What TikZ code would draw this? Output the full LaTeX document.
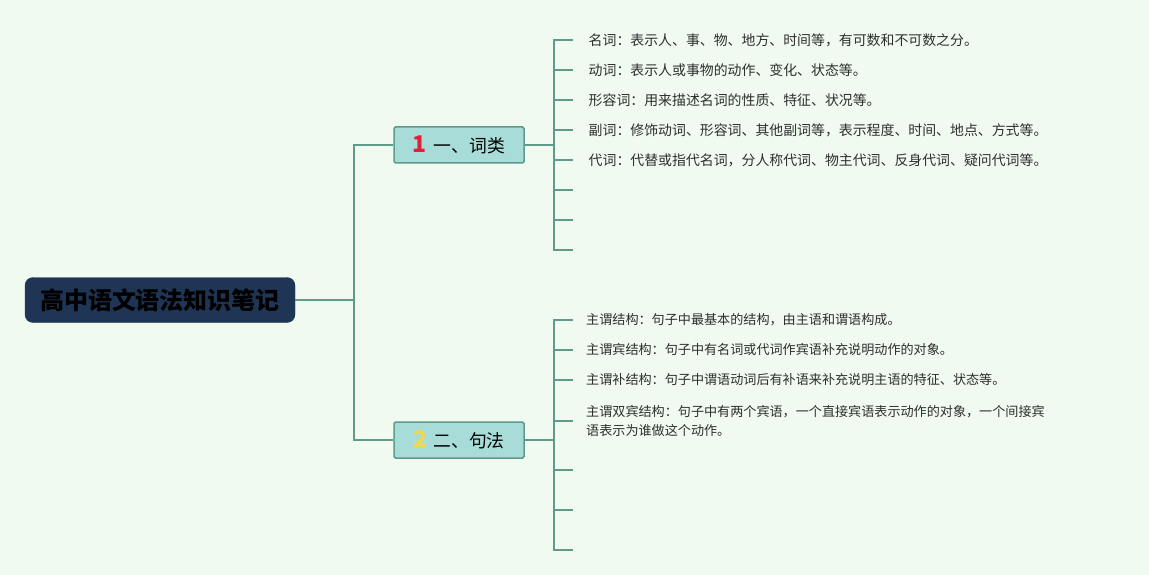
\documentclass[tikz,border=0pt]{standalone}
\usepackage{fontspec}
\setmainfont{Noto Sans CJK SC}
\definecolor{bgmint}{HTML}{F0FAF1}
\definecolor{rootblue}{HTML}{1F3556}
\definecolor{boxteal}{HTML}{A8DCD8}
\definecolor{lineteal}{HTML}{5E9B8B}
\definecolor{leafgray}{HTML}{2E2E2E}
\definecolor{numred}{HTML}{E3203B}
\definecolor{numyellow}{HTML}{F3D84C}

\begin{document}
\begin{tikzpicture}[x=1pt,y=-1pt]
		\tikzset{root/.style = {fill=rootblue, draw=rootblue, rounded corners=8pt, minimum width=270pt, minimum height=45pt, text=black, font=\fontsize{24}{24}\selectfont\bfseries}}
		\tikzset{branch/.style = {fill=boxteal, draw=lineteal, line width=1.5pt, rounded corners=1.5pt, minimum width=130pt, minimum height=36pt, text=black, font=\fontsize{17.8}{20}\selectfont}}
		\tikzset{leaf/.style = {anchor=west, inner xsep=15.5pt, inner ysep=0pt, align=left, text=leafgray, font=\fontsize{13.9}{20}\selectfont}}
		\tikzset{leafsm/.style = {leaf, inner xsep=13pt, font=\fontsize{13.1}{20}\selectfont}}
		\tikzset{edge/.style = {draw=lineteal, line width=1.5pt}}
		
		\fill[bgmint] (0,0) rectangle (1149,575);
		\useasboundingbox (0,0) rectangle (1149,575);
		
		\node[root]    (root) at ( 160, 300) {高中语文语法知识笔记};
		\node[branch]  (b1)   at ( 459, 145) {\textcolor{numred}{\fontsize{23}{23}\selectfont\bfseries 1}\hspace{7pt}一、词类};
		\node[branch]  (b2)   at ( 459, 440) {\textcolor{numyellow}{\fontsize{23}{23}\selectfont\bfseries 2}\hspace{6pt}二、句法};
		
		\coordinate    (k)    at ( 354, 300);
		\coordinate    (j1)   at ( 554, 145);
		\coordinate    (j2)   at ( 554, 440);
		
		% 词类
		\node[leaf]    (w1)   at ( 573,  40) {名词：表示人、事、物、地方、时间等，有可数和不可数之分。};
		\node[leaf]    (w2)   at ( 573,  70) {动词：表示人或事物的动作、变化、状态等。};
		\node[leaf]    (w3)   at ( 573, 100) {形容词：用来描述名词的性质、特征、状况等。};
		\node[leaf]    (w4)   at ( 573, 130) {副词：修饰动词、形容词、其他副词等，表示程度、时间、地点、方式等。};
		\node[leaf]    (w5)   at ( 573, 160) {代词：代替或指代名词，分人称代词、物主代词、反身代词、疑问代词等。};
		\coordinate    (w6)   at ( 573, 190);
		\coordinate    (w7)   at ( 573, 220);
		\coordinate    (w8)   at ( 573, 250);
		
		% 句法
		\node[leafsm]  (s1)   at ( 573, 320) {主谓结构：句子中最基本的结构，由主语和谓语构成。};
		\node[leafsm]  (s2)   at ( 573, 350) {主谓宾结构：句子中有名词或代词作宾语补充说明动作的对象。};
		\node[leafsm]  (s3)   at ( 573, 380) {主谓补结构：句子中谓语动词后有补语来补充说明主语的特征、状态等。};
		\node[leafsm]  (s4)   at ( 573, 421) {主谓双宾结构：句子中有两个宾语，一个直接宾语表示动作的对象，一个间接宾\\语表示为谁做这个动作。};
		\coordinate    (s5)   at ( 573, 470);
		\coordinate    (s6)   at ( 573, 510);
		\coordinate    (s7)   at ( 573, 550);
		
		\draw[edge] (root.east) -- (k);
		\draw[edge] (k) |- (b1.west);
		\draw[edge] (k) |- (b2.west);
		\draw[edge] (b1.east) -- (j1);
		\draw[edge] (b2.east) -- (j2);
		\foreach \n in {w1,w2,w3,w4,w5,w6,w7,w8}
			\draw[edge] (j1) |- (\n.west);
		\foreach \n in {s1,s2,s3,s4,s5,s6,s7}
			\draw[edge] (j2) |- (\n.west);
		\end{tikzpicture}
\end{document}
